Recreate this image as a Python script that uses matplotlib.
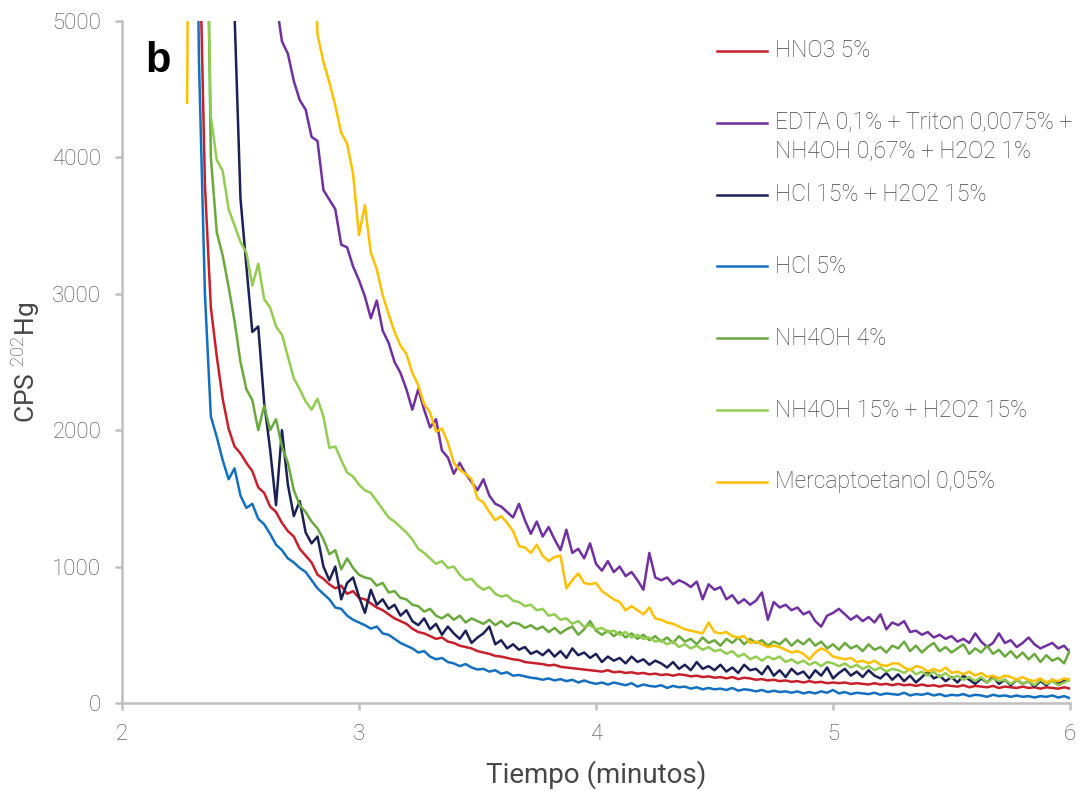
import numpy as np
import matplotlib
matplotlib.use("Agg")
import matplotlib.pyplot as plt

plt.rcParams['font.family'] = ['Roboto', 'DejaVu Sans']
plt.rcParams['font.weight'] = 'light'
plt.rcParams['mathtext.fontset'] = 'custom'
plt.rcParams['mathtext.rm'] = 'Roboto:light'

# muestreo: cada 0,025 min desde 2,275 hasta 6,000 (150 lecturas)
t_inicio = 2.275
t_paso = 0.025
n_lecturas = 150
tiempo = np.round(t_inicio + t_paso * np.arange(n_lecturas), 3)

# CPS 202Hg para cada solucion de lavado (valores > 5000 quedan fuera de escala)
hno3 = [9000, 8000, 5800, 3800, 2900, 2540, 2230, 2010, 1880, 1830,
        1760, 1700, 1580, 1540, 1440, 1400, 1320, 1260, 1220, 1130,
        1080, 1030, 940, 910, 870, 840, 860, 800, 820, 770,
        760, 730, 700, 680, 650, 620, 600, 580, 545, 520,
        510, 490, 470, 480, 450, 440, 420, 410, 400, 380,
        370, 360, 345, 340, 330, 320, 315, 300, 295, 290,
        285, 275, 280, 265, 260, 255, 250, 245, 240, 235,
        230, 240, 225, 230, 220, 225, 215, 220, 210, 215,
        205, 210, 200, 210, 205, 195, 200, 190, 195, 185,
        190, 180, 190, 175, 185, 180, 170, 175, 165, 170,
        160, 165, 155, 160, 150, 160, 150, 155, 145, 150,
        145, 150, 140, 145, 140, 135, 145, 135, 140, 130,
        140, 130, 135, 125, 135, 125, 130, 120, 130, 125,
        120, 130, 115, 125, 120, 115, 125, 110, 120, 115,
        110, 120, 110, 115, 105, 115, 110, 105, 115, 105]

edta = [9000, 9000, 9000, 9000, 9000, 9000, 9000, 9000, 9000, 9000,
        9000, 9000, 9000, 9000, 9000, 5150, 4850, 4760, 4560, 4420,
        4350, 4150, 4120, 3760, 3690, 3620, 3360, 3340, 3200, 3100,
        2980, 2820, 2950, 2730, 2640, 2500, 2420, 2300, 2150, 2300,
        2150, 2020, 2080, 1850, 1800, 1680, 1760, 1680, 1620, 1560,
        1640, 1520, 1460, 1440, 1400, 1360, 1460, 1340, 1240, 1330,
        1220, 1290, 1200, 1120, 1270, 1100, 1130, 1060, 1170, 1020,
        970, 1040, 960, 1000, 930, 960, 900, 830, 1100, 920,
        900, 920, 870, 900, 880, 850, 890, 760, 870, 830,
        850, 760, 790, 730, 760, 720, 750, 810, 610, 740,
        700, 720, 680, 700, 650, 670, 600, 560, 640, 660,
        690, 650, 610, 640, 600, 630, 590, 650, 540, 590,
        570, 600, 520, 530, 500, 520, 480, 500, 470, 490,
        450, 470, 440, 510, 450, 410, 440, 510, 440, 460,
        410, 440, 480, 430, 400, 420, 440, 400, 420, 370]

hcl_h2o2 = [9000, 9000, 9000, 9000, 9000, 9000, 9000, 7000, 5050, 3700,
            3200, 2720, 2760, 2200, 1860, 1450, 2000, 1600, 1370, 1480,
            1250, 1170, 1220, 1000, 900, 1000, 760, 880, 920, 780,
            660, 830, 720, 760, 690, 720, 640, 680, 600, 570,
            620, 540, 580, 500, 560, 510, 470, 530, 440, 480,
            510, 560, 430, 460, 400, 430, 390, 410, 360, 380,
            350, 390, 340, 380, 330, 400, 350, 370, 330, 360,
            300, 340, 310, 330, 290, 340, 300, 320, 280, 310,
            290, 260, 300, 250, 280, 240, 300, 250, 270, 240,
            280, 230, 260, 220, 280, 240, 250, 210, 270, 200,
            240, 190, 250, 210, 230, 180, 240, 200, 260, 180,
            220, 250, 200, 230, 190, 240, 200, 180, 220, 170,
            210, 160, 200, 150, 190, 230, 180, 200, 160, 190,
            150, 200, 170, 140, 180, 150, 190, 140, 170, 130,
            170, 140, 160, 120, 160, 130, 170, 140, 160, 170]

hcl = [9000, 8000, 4700, 3000, 2100, 1950, 1780, 1640, 1720, 1520,
       1430, 1460, 1350, 1310, 1240, 1160, 1120, 1060, 1030, 990,
       960, 900, 840, 800, 760, 700, 690, 640, 610, 590,
       570, 545, 560, 510, 500, 470, 440, 420, 400, 370,
       380, 340, 320, 330, 300, 290, 270, 285, 260, 245,
       250, 230, 240, 215, 225, 200, 205, 195, 185, 180,
       170, 180, 165, 175, 160, 170, 150, 165, 150, 140,
       150, 135, 150, 140, 130, 145, 120, 135, 125, 120,
       130, 110, 125, 115, 120, 105, 115, 100, 110, 100,
       105, 95, 110, 90, 100, 95, 85, 95, 80, 90,
       80, 85, 75, 85, 70, 80, 70, 85, 75, 95,
       70, 80, 65, 75, 70, 65, 75, 60, 70, 65,
       60, 75, 55, 65, 60, 70, 55, 65, 50, 60,
       55, 65, 50, 60, 55, 45, 60, 50, 55, 45,
       55, 45, 50, 40, 50, 45, 55, 40, 50, 35]

nh4oh = [9000, 9000, 9000, 7000, 4000, 3450, 3280, 3050, 2800, 2500,
         2300, 2220, 2000, 2180, 2000, 2080, 1880, 1760, 1560, 1450,
         1400, 1330, 1280, 1200, 1090, 1120, 980, 1060, 990, 940,
         920, 910, 860, 880, 810, 820, 770, 760, 720, 710,
         670, 690, 640, 620, 650, 610, 640, 590, 620, 600,
         580, 610, 570, 600, 560, 590, 580, 550, 570, 540,
         560, 520, 550, 510, 540, 560, 500, 540, 600, 530,
         500, 530, 490, 520, 480, 510, 470, 500, 460, 490,
         450, 480, 440, 490, 450, 470, 430, 480, 440, 460,
         420, 470, 440, 480, 430, 470, 440, 460, 420, 450,
         430, 470, 420, 460, 430, 470, 420, 450, 400, 430,
         390, 440, 400, 420, 380, 430, 390, 410, 370, 420,
         400, 450, 380, 420, 370, 410, 440, 380, 410, 370,
         400, 430, 360, 400, 370, 420, 360, 390, 340, 380,
         330, 370, 320, 360, 300, 350, 310, 330, 290, 390]

nh4oh_h2o2 = [9000, 9000, 9000, 6500, 4300, 3980, 3900, 3620, 3500, 3380,
              3300, 3060, 3220, 2960, 2900, 2760, 2700, 2540, 2380, 2300,
              2210, 2150, 2230, 2100, 1870, 1880, 1780, 1690, 1660, 1600,
              1560, 1540, 1480, 1420, 1360, 1330, 1290, 1250, 1200, 1130,
              1100, 1060, 1020, 1040, 990, 1000, 940, 900, 910, 860,
              830, 850, 800, 780, 790, 750, 740, 710, 720, 680,
              690, 640, 650, 610, 620, 580, 600, 560, 570, 540,
              550, 520, 530, 500, 520, 480, 500, 470, 480, 450,
              460, 430, 450, 410, 430, 400, 420, 390, 410, 380,
              390, 360, 380, 340, 360, 320, 340, 310, 340, 320,
              340, 300, 320, 290, 310, 280, 300, 270, 300, 290,
              270, 290, 260, 280, 250, 270, 240, 260, 230, 250,
              240, 220, 250, 210, 230, 200, 230, 190, 220, 180,
              200, 170, 190, 160, 190, 150, 180, 160, 170, 140,
              170, 140, 160, 130, 170, 140, 160, 130, 150, 170]

mercapto = [4400, 12000, 12000, 12000, 12000, 12000, 12000, 12000, 12000, 12000,
            12000, 12000, 12000, 12000, 12000, 12000, 12000, 12000, 12000, 12000,
            12000, 6000, 4900, 4700, 4550, 4380, 4180, 4100, 3880, 3430,
            3650, 3300, 3180, 2990, 2850, 2720, 2620, 2560, 2420, 2330,
            2190, 2130, 1990, 2010, 1910, 1760, 1710, 1680, 1640, 1500,
            1470, 1400, 1340, 1370, 1320, 1260, 1150, 1140, 1100, 1160,
            1080, 1040, 1070, 1080, 840, 900, 950, 880, 870, 880,
            820, 790, 760, 740, 680, 710, 680, 650, 700, 620,
            610, 590, 580, 560, 540, 530, 520, 510, 590, 520,
            510, 520, 490, 480, 490, 440, 450, 430, 410, 420,
            410, 390, 370, 380, 360, 320, 370, 400, 380, 340,
            330, 320, 330, 300, 310, 290, 310, 280, 270, 290,
            290, 260, 240, 270, 260, 230, 250, 230, 260, 220,
            230, 210, 230, 200, 220, 190, 200, 180, 200, 190,
            170, 190, 170, 160, 180, 150, 170, 160, 180, 170]

etiquetas = ['HNO3 5%',
             'EDTA 0,1% + Triton 0,0075% +',
             'HCl 15% + H2O2 15%',
             'HCl 5%',
             'NH4OH 4%',
             'NH4OH 15% + H2O2 15%',
             'Mercaptoetanol 0,05%']
colores = ['#C8202A', '#7030A0', '#1B2156', '#1370C0', '#6AAA3C', '#92CC50', '#FFC000']
series = [hno3, edta, hcl_h2o2, hcl, nh4oh, nh4oh_h2o2, mercapto]

gris = '#BFBFBF'
texto = '#474747'

fig = plt.figure(figsize=(10.87, 7.91), dpi=100)
ax = fig.add_axes([0.1122, 0.1113, 0.8722, 0.8622])

for valores, color, etiqueta in zip(series, colores, etiquetas):
    ax.plot(tiempo, valores, color=color, lw=1.8, label=etiqueta)

ax.set_xlim(2, 6)
ax.set_ylim(0, 5000)
ax.set_xticks([2, 3, 4, 5, 6])
ax.set_yticks([0, 1000, 2000, 3000, 4000, 5000])

for lado in ['top', 'right']:
    ax.spines[lado].set_visible(False)
for lado in ['left', 'bottom']:
    ax.spines[lado].set_color(gris)
    ax.spines[lado].set_linewidth(1.8)

ax.tick_params(axis='both', direction='out', length=5, width=1.8, color=gris,
               labelcolor=texto, labelsize=16, pad=10)

ax.set_xlabel('Tiempo (minutos)', fontsize=20, color=texto, labelpad=11)
ax.set_ylabel('CPS $^{202}$Hg', fontsize=19, color=texto, labelpad=7)

# leyenda a mano: la etiqueta de EDTA ocupa dos renglones
x0, x1, xt = 0.6276, 0.6804, 0.6888
y_sup, dy = 0.9560, 0.1053
for i, (color, etiqueta) in enumerate(zip(colores, etiquetas)):
    y = y_sup - i * dy
    ax.plot([x0, x1], [y, y], color=color, lw=1.8, transform=ax.transAxes, clip_on=False)
    ax.text(xt, y, etiqueta, transform=ax.transAxes, fontsize=16.5, color=texto,
            va='center', ha='left')
ax.text(xt, y_sup - dy - 0.0425, 'NH4OH 0,67% + H2O2 1%', transform=ax.transAxes,
        fontsize=16.5, color=texto, va='center', ha='left')

ax.text(0.025, 0.941, 'b', transform=ax.transAxes, fontsize=30, fontweight='bold',
        family=['Liberation Sans', 'DejaVu Sans'], color='black', va='center', ha='left')

fig.savefig('out.png', dpi=100)
